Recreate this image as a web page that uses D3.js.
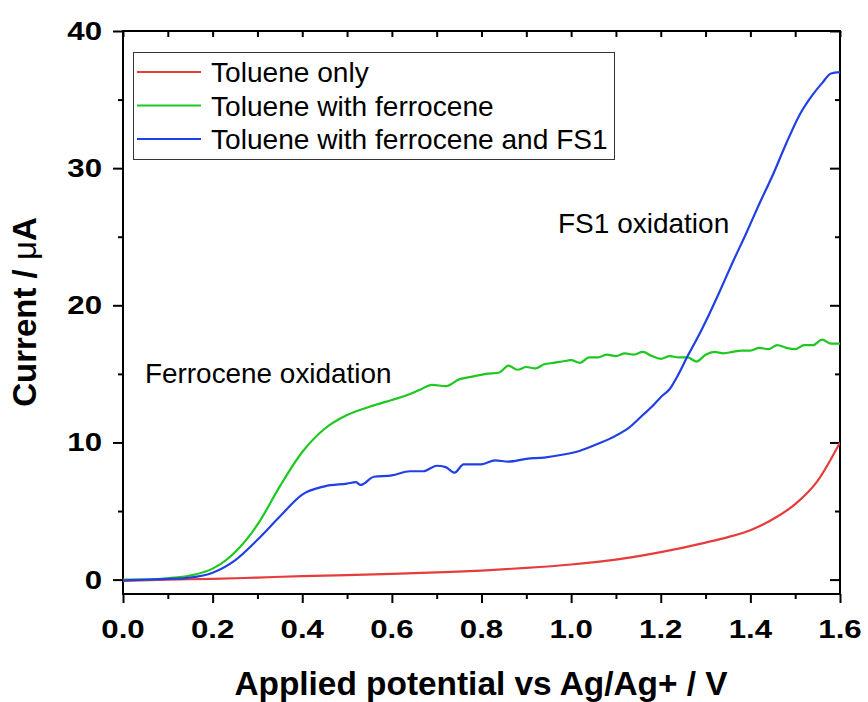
<!DOCTYPE html>
<html><head><meta charset="utf-8">
<script src="https://cdn.jsdelivr.net/npm/d3@7"></script>
<style>body{margin:0;background:#fff}svg{display:block}</style>
</head><body>
<svg id="chart" width="868" height="702"></svg>
<script>
// ---- data ----
const seriesNames = ["Toluene only", "Toluene with ferrocene", "Toluene with ferrocene and FS1"];
const seriesColors = ["#e63c3c", "#1ec81e", "#2040e6"];

const redV = [0,0.1,0.2,0.3,0.4,0.5,0.6,0.7,0.8,0.9,1.0,1.1,1.2,1.3,1.35,1.4,1.45,1.5,1.55,1.6];
const redI = [-0.1,0,0.05,0.15,0.25,0.32,0.42,0.53,0.66,0.85,1.1,1.45,2.0,2.7,3.1,3.6,4.4,5.5,7.2,10.0];

const greenV = [0,0.05,0.1,0.15,0.2,0.25,0.3,0.35,0.4,0.45,0.5,0.55,0.6,0.63,0.66,0.69,0.72,0.75,0.78,0.81,0.84,0.86,0.88,0.9,0.92,0.94,0.96,0.98,1.0,1.02,1.04,1.06,1.08,1.1,1.12,1.14,1.16,1.18,1.2,1.22,1.24,1.26,1.28,1.3,1.32,1.34,1.36,1.38,1.4,1.42,1.44,1.46,1.48,1.5,1.52,1.54,1.56,1.58,1.6];
const greenI = [0,0,0.1,0.3,0.8,2.0,4.0,6.8,9.3,11.0,12.0,12.6,13.1,13.4,13.8,14.2,14.1,14.6,14.8,15.0,15.1,15.6,15.3,15.5,15.4,15.7,15.8,15.9,16.0,15.8,16.2,16.2,16.4,16.3,16.5,16.4,16.6,16.3,16.1,16.3,16.2,16.2,15.9,16.4,16.6,16.5,16.6,16.7,16.7,16.9,16.8,17.1,16.9,16.8,17.1,17.1,17.5,17.2,17.2];

const blueV = [0,0.05,0.1,0.15,0.2,0.25,0.3,0.35,0.4,0.45,0.5,0.52,0.53,0.56,0.6,0.64,0.67,0.7,0.72,0.74,0.76,0.8,0.83,0.86,0.9,0.94,0.98,1.02,1.06,1.1,1.13,1.16,1.18,1.2,1.22,1.24,1.26,1.28,1.3,1.33,1.36,1.39,1.42,1.45,1.48,1.51,1.54,1.56,1.58,1.6];
const blueI = [-0.05,0,0.05,0.15,0.5,1.4,2.9,4.6,6.2,6.8,7.0,7.1,6.9,7.5,7.6,7.9,7.9,8.3,8.2,7.8,8.4,8.4,8.7,8.6,8.8,8.9,9.1,9.4,9.9,10.5,11.1,12.0,12.6,13.3,13.9,15.0,16.3,17.5,18.8,20.9,23.1,25.2,27.4,29.5,31.8,33.9,35.4,36.2,36.9,37.0];

const xTicks = [0,0.2,0.4,0.6,0.8,1.0,1.2,1.4,1.6];
const xMinor = [0.1,0.3,0.5,0.7,0.9,1.1,1.3,1.5];
const yTicks = [0,10,20,30,40];
const yMinor = [5,15,25,35];

const xTitle = "Applied potential vs Ag/Ag+ / V";
const annotations = ["Ferrocene oxidation", "FS1 oxidation"];

// ---- layout ----
const svg = d3.select("#chart");
const L = 123, R = 840, T = 31, B = 594;
const x = d3.scaleLinear().domain([0, 1.6]).range([L, R]);
const y = d3.scaleLinear().domain([-1.05, 40]).range([B, T]);
const font = "Arial, 'Liberation Sans', sans-serif";

function styleAxis(g) {
  g.select(".domain").remove();
  g.selectAll("line").attr("stroke", "#000").attr("stroke-width", 2);
  g.selectAll("text").remove();
}

// axes: ticks
svg.append("g").attr("transform", `translate(0,${B})`).call(d3.axisBottom(x).tickValues(xTicks).tickSize(9)).call(styleAxis);
svg.append("g").attr("transform", `translate(0,${B})`).call(d3.axisBottom(x).tickValues(xMinor).tickSize(5)).call(styleAxis);
svg.append("g").attr("transform", `translate(0,${T})`).call(d3.axisBottom(x).tickValues(xTicks.concat(xMinor)).tickSize(6)).call(styleAxis);
svg.append("g").attr("transform", `translate(${L},0)`).call(d3.axisLeft(y).tickValues(yTicks).tickSize(10)).call(styleAxis);
svg.append("g").attr("transform", `translate(${L},0)`).call(d3.axisLeft(y).tickValues(yMinor).tickSize(5)).call(styleAxis);
svg.append("g").attr("transform", `translate(${R},0)`).call(d3.axisLeft(y).tickValues(yTicks).tickSize(10)).call(styleAxis);
svg.append("g").attr("transform", `translate(${R},0)`).call(d3.axisLeft(y).tickValues(yMinor).tickSize(5)).call(styleAxis);

// frame
svg.append("rect").attr("x", L).attr("y", T).attr("width", R - L).attr("height", B - T)
  .attr("fill", "none").attr("stroke", "#000").attr("stroke-width", 2);

// tick labels
svg.append("g").selectAll("text").data(xTicks).join("text")
  .attr("transform", d => `translate(${x(d)},638) scale(1.2,1)`)
  .attr("text-anchor", "middle").attr("font-family", font).attr("font-weight", "bold")
  .attr("font-size", 26).text(d => d3.format(".1f")(d));
svg.append("g").selectAll("text").data(yTicks).join("text")
  .attr("transform", d => `translate(102,${y(d) + 9}) scale(1.2,1)`)
  .attr("text-anchor", "end").attr("font-family", font).attr("font-weight", "bold")
  .attr("font-size", 26).text(d => d);

// axis titles
svg.append("text").attr("x", 481).attr("y", 695).attr("text-anchor", "middle")
  .attr("font-family", font).attr("font-weight", "bold").attr("font-size", 33.4).text(xTitle);
const yt = svg.append("text").attr("transform", "translate(36,312) rotate(-90)").attr("text-anchor", "middle")
  .attr("font-family", font).attr("font-weight", "bold").attr("font-size", 33);
yt.append("tspan").text("Current / ");
yt.append("tspan").attr("font-weight", "normal").text("μ");
yt.append("tspan").text("A");

// lines
const clip = svg.append("clipPath").attr("id", "clip").append("rect")
  .attr("x", L).attr("y", T).attr("width", R - L).attr("height", B - T);
const line = d3.line().x(d => x(d[0])).y(d => y(d[1])).curve(d3.curveMonotoneX);
const data = [d3.zip(redV, redI), d3.zip(greenV, greenI), d3.zip(blueV, blueI)];
svg.append("g").attr("clip-path", "url(#clip)").selectAll("path").data(data).join("path")
  .attr("d", line).attr("fill", "none").attr("stroke", (d, i) => seriesColors[i])
  .attr("stroke-width", 2.2).attr("stroke-linejoin", "round");

// legend
svg.append("rect").attr("x", 133.5).attr("y", 52.5).attr("width", 481).attr("height", 107)
  .attr("fill", "#fff").attr("stroke", "#333").attr("stroke-width", 1);
const lg = svg.append("g").selectAll("g").data(seriesNames).join("g")
  .attr("transform", (d, i) => `translate(0,${72 + i * 33.5})`);
lg.append("line").attr("x1", 137).attr("x2", 201).attr("y1", 0).attr("y2", 0)
  .attr("stroke", (d, i) => seriesColors[i]).attr("stroke-width", 2.2);
lg.append("text").attr("x", 211).attr("y", 10).attr("font-family", font).attr("font-size", 28.1).text(d => d);

// annotations
svg.append("text").attr("x", 145).attr("y", 383).attr("font-family", font).attr("font-size", 27.9).text(annotations[0]);
svg.append("text").attr("x", 558).attr("y", 233).attr("font-family", font).attr("font-size", 28).text(annotations[1]);
</script>
</body></html>
